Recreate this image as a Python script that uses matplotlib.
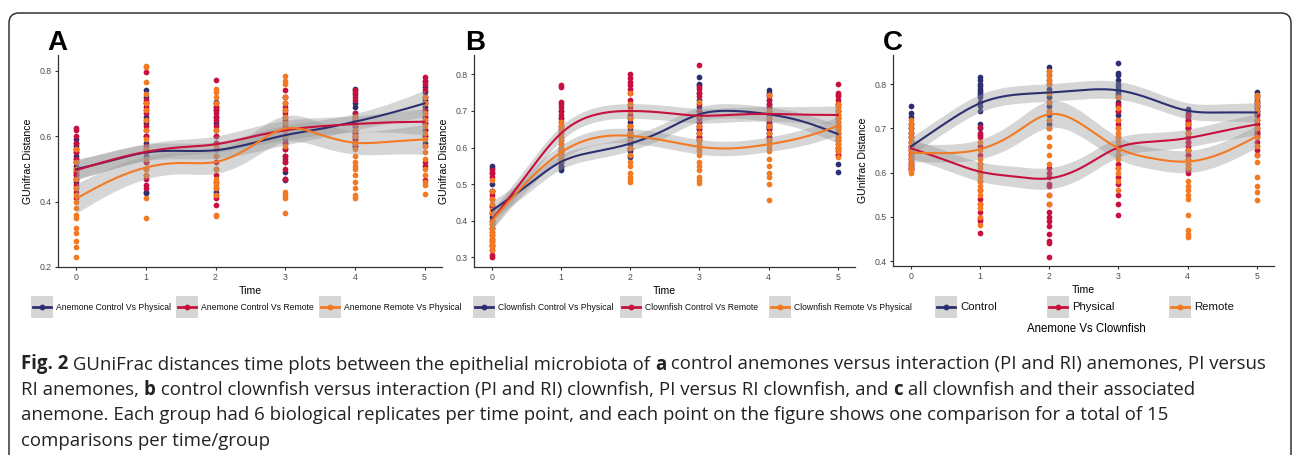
import numpy as np
import matplotlib
matplotlib.use("Agg")
import matplotlib.pyplot as plt
from matplotlib.patches import FancyBboxPatch, Rectangle
from matplotlib.lines import Line2D

plt.rcParams['font.family'] = ['Liberation Sans', 'DejaVu Sans']

W, H = 1292, 455

times = [0, 1, 2, 3, 4, 5]
fit_x = [0, 0.5, 1, 1.5, 2, 2.5, 3, 3.5, 4, 4.5, 5]
colors = ['#2D3070', '#C8103F', '#F37A22']

# ---- panel A: anemones ----
a_labels = ["Anemone Control Vs Physical", "Anemone Control Vs Remote", "Anemone Remote Vs Physical"]
a_ctrl_phys = [
    [0.59, 0.58, 0.57, 0.56, 0.55, 0.54, 0.53, 0.52, 0.51, 0.50, 0.49, 0.48, 0.47, 0.46, 0.44],
    [0.74, 0.72, 0.70, 0.68, 0.66, 0.64, 0.62, 0.60, 0.58, 0.56, 0.54, 0.52, 0.48, 0.43, 0.425],
    [0.705, 0.70, 0.69, 0.68, 0.66, 0.64, 0.62, 0.60, 0.58, 0.56, 0.54, 0.50, 0.46, 0.43, 0.42],
    [0.72, 0.70, 0.68, 0.66, 0.64, 0.62, 0.60, 0.59, 0.58, 0.56, 0.54, 0.52, 0.49, 0.47, 0.465],
    [0.745, 0.73, 0.70, 0.69, 0.67, 0.66, 0.65, 0.64, 0.63, 0.62, 0.61, 0.60, 0.59, 0.58, 0.57],
    [0.77, 0.75, 0.735, 0.72, 0.71, 0.70, 0.69, 0.68, 0.67, 0.66, 0.65, 0.64, 0.62, 0.60, 0.58],
]
a_ctrl_rem = [
    [0.625, 0.62, 0.60, 0.58, 0.56, 0.55, 0.53, 0.52, 0.50, 0.49, 0.48, 0.47, 0.45, 0.43, 0.41],
    [0.795, 0.71, 0.70, 0.69, 0.67, 0.65, 0.63, 0.60, 0.57, 0.55, 0.52, 0.50, 0.47, 0.45, 0.44],
    [0.773, 0.69, 0.68, 0.67, 0.66, 0.65, 0.63, 0.60, 0.58, 0.56, 0.52, 0.48, 0.44, 0.41, 0.39],
    [0.74, 0.72, 0.69, 0.67, 0.65, 0.63, 0.62, 0.60, 0.58, 0.56, 0.54, 0.53, 0.52, 0.50, 0.47],
    [0.74, 0.735, 0.72, 0.71, 0.67, 0.66, 0.65, 0.64, 0.63, 0.62, 0.61, 0.60, 0.59, 0.58, 0.57],
    [0.782, 0.77, 0.76, 0.74, 0.72, 0.70, 0.68, 0.66, 0.64, 0.62, 0.60, 0.57, 0.52, 0.51, 0.465],
]
a_rem_phys = [
    [0.56, 0.52, 0.50, 0.47, 0.44, 0.42, 0.40, 0.38, 0.36, 0.35, 0.32, 0.305, 0.28, 0.26, 0.23],
    [0.815, 0.81, 0.765, 0.73, 0.70, 0.68, 0.65, 0.62, 0.59, 0.56, 0.53, 0.50, 0.48, 0.41, 0.35],
    [0.745, 0.735, 0.72, 0.70, 0.62, 0.57, 0.54, 0.50, 0.47, 0.46, 0.45, 0.44, 0.42, 0.36, 0.355],
    [0.784, 0.77, 0.76, 0.72, 0.70, 0.68, 0.66, 0.64, 0.62, 0.60, 0.57, 0.43, 0.42, 0.41, 0.366],
    [0.66, 0.64, 0.62, 0.60, 0.58, 0.56, 0.54, 0.52, 0.51, 0.50, 0.48, 0.46, 0.44, 0.42, 0.41],
    [0.72, 0.70, 0.67, 0.65, 0.63, 0.61, 0.59, 0.57, 0.55, 0.53, 0.50, 0.48, 0.46, 0.45, 0.422],
]
a_fit_ctrl_phys = [0.499, 0.525, 0.550, 0.555, 0.557, 0.577, 0.603, 0.622, 0.644, 0.670, 0.700]
a_fit_ctrl_rem = [0.496, 0.527, 0.552, 0.566, 0.575, 0.597, 0.618, 0.630, 0.637, 0.642, 0.644]
a_fit_rem_phys = [0.409, 0.465, 0.504, 0.518, 0.521, 0.567, 0.623, 0.605, 0.580, 0.583, 0.590]
a_se_ctrl_phys = [0.030, 0.025, 0.025, 0.030, 0.025, 0.040]
a_se_ctrl_rem = [0.030, 0.025, 0.025, 0.030, 0.025, 0.040]
a_se_rem_phys = [0.045, 0.035, 0.035, 0.040, 0.035, 0.045]

# ---- panel B: clownfish ----
b_labels = ["Clownfish Control Vs Physical", "Clownfish Control Vs Remote", "Clownfish Remote Vs Physical"]
b_ctrl_phys = [
    [0.55, 0.545, 0.53, 0.50, 0.48, 0.46, 0.44, 0.42, 0.41, 0.40, 0.39, 0.38, 0.36, 0.345, 0.335],
    [0.70, 0.68, 0.66, 0.64, 0.62, 0.60, 0.59, 0.58, 0.57, 0.56, 0.56, 0.55, 0.55, 0.545, 0.54],
    [0.72, 0.70, 0.68, 0.67, 0.66, 0.65, 0.64, 0.63, 0.62, 0.61, 0.60, 0.595, 0.59, 0.58, 0.575],
    [0.792, 0.775, 0.77, 0.75, 0.73, 0.71, 0.70, 0.69, 0.68, 0.67, 0.66, 0.65, 0.64, 0.63, 0.62],
    [0.757, 0.75, 0.73, 0.72, 0.71, 0.70, 0.69, 0.68, 0.67, 0.665, 0.66, 0.655, 0.65, 0.64, 0.63],
    [0.72, 0.70, 0.68, 0.67, 0.66, 0.65, 0.64, 0.63, 0.62, 0.61, 0.60, 0.59, 0.58, 0.555, 0.534],
]
b_ctrl_rem = [
    [0.54, 0.53, 0.52, 0.48, 0.47, 0.44, 0.42, 0.40, 0.38, 0.37, 0.35, 0.33, 0.32, 0.305, 0.30],
    [0.771, 0.765, 0.725, 0.72, 0.71, 0.70, 0.69, 0.68, 0.67, 0.66, 0.65, 0.63, 0.61, 0.59, 0.58],
    [0.80, 0.79, 0.78, 0.77, 0.76, 0.75, 0.73, 0.71, 0.70, 0.69, 0.68, 0.66, 0.64, 0.62, 0.60],
    [0.825, 0.765, 0.76, 0.75, 0.74, 0.72, 0.70, 0.69, 0.68, 0.67, 0.66, 0.65, 0.64, 0.63, 0.62],
    [0.745, 0.74, 0.73, 0.72, 0.71, 0.70, 0.69, 0.68, 0.67, 0.66, 0.65, 0.64, 0.63, 0.62, 0.61],
    [0.775, 0.75, 0.745, 0.74, 0.73, 0.72, 0.71, 0.70, 0.69, 0.68, 0.66, 0.64, 0.62, 0.60, 0.58],
]
b_rem_phys = [
    [0.51, 0.48, 0.46, 0.445, 0.43, 0.42, 0.40, 0.39, 0.38, 0.37, 0.36, 0.35, 0.34, 0.33, 0.32],
    [0.67, 0.66, 0.65, 0.64, 0.63, 0.62, 0.61, 0.60, 0.595, 0.59, 0.585, 0.58, 0.575, 0.57, 0.565],
    [0.75, 0.72, 0.70, 0.68, 0.66, 0.64, 0.62, 0.60, 0.58, 0.56, 0.55, 0.53, 0.52, 0.51, 0.505],
    [0.725, 0.69, 0.66, 0.64, 0.62, 0.61, 0.60, 0.59, 0.58, 0.56, 0.55, 0.54, 0.52, 0.51, 0.502],
    [0.745, 0.70, 0.68, 0.66, 0.64, 0.62, 0.61, 0.60, 0.59, 0.57, 0.55, 0.53, 0.52, 0.50, 0.457],
    [0.72, 0.71, 0.70, 0.69, 0.68, 0.67, 0.66, 0.65, 0.64, 0.63, 0.62, 0.61, 0.60, 0.59, 0.575],
]
b_fit_ctrl_phys = [0.428, 0.495, 0.561, 0.589, 0.611, 0.648, 0.691, 0.700, 0.691, 0.671, 0.637]
b_fit_ctrl_rem = [0.402, 0.525, 0.639, 0.690, 0.700, 0.695, 0.687, 0.690, 0.692, 0.690, 0.689]
b_fit_rem_phys = [0.400, 0.505, 0.587, 0.627, 0.632, 0.619, 0.602, 0.598, 0.609, 0.628, 0.659]
b_se_ctrl_phys = [0.025, 0.020, 0.020, 0.020, 0.020, 0.025]
b_se_ctrl_rem = [0.025, 0.020, 0.020, 0.020, 0.020, 0.025]
b_se_rem_phys = [0.025, 0.020, 0.020, 0.020, 0.020, 0.025]

# ---- panel C: anemone vs clownfish ----
c_labels = ["Control", "Physical", "Remote"]
c_ctrl = [
    [0.751, 0.735, 0.725, 0.71, 0.70, 0.69, 0.68, 0.67, 0.66, 0.65, 0.64, 0.63, 0.62, 0.615, 0.61],
    [0.816, 0.81, 0.80, 0.795, 0.79, 0.785, 0.78, 0.775, 0.77, 0.76, 0.75, 0.74, 0.71, 0.70, 0.685],
    [0.838, 0.83, 0.82, 0.81, 0.80, 0.79, 0.78, 0.77, 0.76, 0.75, 0.74, 0.73, 0.72, 0.71, 0.70],
    [0.848, 0.825, 0.82, 0.81, 0.80, 0.795, 0.79, 0.785, 0.78, 0.775, 0.77, 0.76, 0.75, 0.74, 0.73],
    [0.743, 0.735, 0.73, 0.725, 0.72, 0.715, 0.71, 0.705, 0.70, 0.69, 0.68, 0.67, 0.66, 0.65, 0.64],
    [0.783, 0.775, 0.77, 0.765, 0.76, 0.755, 0.75, 0.745, 0.74, 0.735, 0.73, 0.72, 0.71, 0.70, 0.69],
]
c_phys = [
    [0.71, 0.70, 0.69, 0.68, 0.67, 0.66, 0.655, 0.65, 0.645, 0.64, 0.63, 0.625, 0.62, 0.61, 0.605],
    [0.704, 0.69, 0.68, 0.66, 0.64, 0.62, 0.60, 0.58, 0.56, 0.54, 0.53, 0.51, 0.495, 0.49, 0.463],
    [0.61, 0.60, 0.59, 0.575, 0.57, 0.55, 0.53, 0.51, 0.50, 0.49, 0.48, 0.46, 0.445, 0.44, 0.41],
    [0.755, 0.74, 0.72, 0.71, 0.70, 0.68, 0.66, 0.64, 0.62, 0.61, 0.59, 0.575, 0.55, 0.53, 0.503],
    [0.73, 0.72, 0.71, 0.70, 0.69, 0.68, 0.67, 0.66, 0.65, 0.64, 0.63, 0.62, 0.61, 0.605, 0.598],
    [0.76, 0.75, 0.74, 0.73, 0.72, 0.71, 0.70, 0.695, 0.69, 0.685, 0.68, 0.67, 0.66, 0.65, 0.64],
]
c_rem = [
    [0.72, 0.71, 0.70, 0.69, 0.68, 0.67, 0.66, 0.65, 0.64, 0.635, 0.63, 0.62, 0.61, 0.605, 0.598],
    [0.67, 0.65, 0.63, 0.62, 0.61, 0.60, 0.59, 0.58, 0.57, 0.56, 0.55, 0.53, 0.52, 0.50, 0.482],
    [0.83, 0.82, 0.81, 0.80, 0.78, 0.76, 0.74, 0.72, 0.70, 0.68, 0.66, 0.64, 0.62, 0.55, 0.53],
    [0.77, 0.745, 0.72, 0.70, 0.69, 0.68, 0.67, 0.66, 0.65, 0.64, 0.63, 0.61, 0.60, 0.58, 0.56],
    [0.71, 0.69, 0.65, 0.63, 0.62, 0.61, 0.58, 0.57, 0.56, 0.55, 0.54, 0.504, 0.47, 0.46, 0.455],
    [0.775, 0.77, 0.76, 0.75, 0.74, 0.72, 0.70, 0.68, 0.66, 0.64, 0.625, 0.59, 0.57, 0.555, 0.538],
]
c_fit_ctrl = [0.659, 0.712, 0.757, 0.776, 0.781, 0.787, 0.786, 0.765, 0.740, 0.736, 0.736]
c_fit_phys = [0.655, 0.628, 0.602, 0.591, 0.587, 0.614, 0.657, 0.670, 0.678, 0.694, 0.709]
c_fit_rem = [0.645, 0.644, 0.653, 0.689, 0.732, 0.706, 0.655, 0.632, 0.625, 0.644, 0.682]
c_se_ctrl = [0.020, 0.020, 0.020, 0.020, 0.018, 0.022]
c_se_phys = [0.022, 0.022, 0.024, 0.022, 0.020, 0.024]
c_se_rem = [0.020, 0.022, 0.030, 0.025, 0.025, 0.025]


def spline(xk, yk, xs):
    # natural cubic spline, only used to draw the smooth curve
    xk = np.asarray(xk, float)
    yk = np.asarray(yk, float)
    n = len(xk)
    h = np.diff(xk)
    A = np.zeros((n, n))
    b = np.zeros(n)
    A[0, 0] = A[-1, -1] = 1
    for i in range(1, n - 1):
        A[i, i - 1] = h[i - 1]
        A[i, i] = 2 * (h[i - 1] + h[i])
        A[i, i + 1] = h[i]
        b[i] = 3 * ((yk[i + 1] - yk[i]) / h[i] - (yk[i] - yk[i - 1]) / h[i - 1])
    c = np.linalg.solve(A, b)
    idx = np.clip(np.searchsorted(xk, xs) - 1, 0, n - 2)
    dx = xs - xk[idx]
    bb = (yk[idx + 1] - yk[idx]) / h[idx] - h[idx] * (2 * c[idx] + c[idx + 1]) / 3
    d = (c[idx + 1] - c[idx]) / (3 * h[idx])
    return yk[idx] + bb * dx + c[idx] * dx ** 2 + d * dx ** 3


def panel(ax, groups, fits, ses, ylim, yticks):
    for vals, col in zip(groups, colors):
        for t, v in zip(times, vals):
            ax.scatter(np.full(len(v), t), v, s=17, color=col, linewidths=0, zorder=2)
    xs = np.linspace(0, 5, 200)
    for fit, se, col in zip(fits, ses, colors):
        ys = spline(fit_x, fit, xs)
        hw = spline(times, se, xs)
        ax.fill_between(xs, ys - hw, ys + hw, color='#999999', alpha=0.4, linewidth=0, zorder=3)
        ax.plot(xs, ys, color=col, lw=1.5, zorder=4)
    ax.set_xlim(-0.26, 5.25)
    ax.set_ylim(*ylim)
    ax.set_xticks(times)
    ax.set_yticks(yticks)
    ax.set_yticklabels([f"{v:.1f}" for v in yticks])
    for s in ['top', 'right']:
        ax.spines[s].set_visible(False)
    for s in ['left', 'bottom']:
        ax.spines[s].set_linewidth(0.9)
        ax.spines[s].set_color('#333333')
    ax.tick_params(length=2.5, width=0.8, color='#333333', labelsize=6.3,
                   labelcolor='#4d4d4d', pad=2)
    ax.set_xlabel("Time", fontsize=7.6)
    ax.set_ylabel("GUnifrac Distance", fontsize=7.6)
    ax.xaxis.set_label_coords(0.5, -0.09)
    ax.yaxis.set_label_coords(-0.065, 0.5)


fig = plt.figure(figsize=(W / 100, H / 100), dpi=100)

axA = fig.add_axes([58 / W, 1 - 267 / H, 384 / W, 212 / H])
axB = fig.add_axes([474 / W, 1 - 267 / H, 381 / W, 212 / H])
axC = fig.add_axes([893 / W, 1 - 266 / H, 381 / W, 211 / H])

panel(axA, [a_ctrl_phys, a_ctrl_rem, a_rem_phys],
      [a_fit_ctrl_phys, a_fit_ctrl_rem, a_fit_rem_phys],
      [a_se_ctrl_phys, a_se_ctrl_rem, a_se_rem_phys],
      (0.2, 0.848), [0.2, 0.4, 0.6, 0.8])
panel(axB, [b_ctrl_phys, b_ctrl_rem, b_rem_phys],
      [b_fit_ctrl_phys, b_fit_ctrl_rem, b_fit_rem_phys],
      [b_se_ctrl_phys, b_se_ctrl_rem, b_se_rem_phys],
      (0.2735, 0.853), [0.3, 0.4, 0.5, 0.6, 0.7, 0.8])
panel(axC, [c_ctrl, c_phys, c_rem],
      [c_fit_ctrl, c_fit_phys, c_fit_rem],
      [c_se_ctrl, c_se_phys, c_se_rem],
      (0.3887, 0.866), [0.4, 0.5, 0.6, 0.7, 0.8])

# panel letters
for x, lab in [(47, "A"), (465, "B"), (883, "C")]:
    fig.text(x / W, 1 - 50 / H, lab, fontsize=20, fontweight='bold', va='baseline')


# legends, drawn as keys below each panel
def key(x0, col, label, size):
    y0 = 296
    fig.add_artist(Rectangle((x0 / W, 1 - (y0 + 22) / H), 22 / W, 22 / H,
                             transform=fig.transFigure, facecolor='#d6d6d6', edgecolor='none'))
    fig.add_artist(Line2D([(x0 + 2) / W, (x0 + 20) / W], [1 - (y0 + 11) / H] * 2,
                          transform=fig.transFigure, color=col, lw=2))
    fig.add_artist(Line2D([(x0 + 11) / W], [1 - (y0 + 11) / H], transform=fig.transFigure,
                          color=col, marker='o', markersize=4.2, markeredgewidth=0))
    fig.text((x0 + 25) / W, 1 - (y0 + 11) / H, label, fontsize=size, va='center', color='#111111')


for x0, col, lab in zip([31, 176, 319], colors, a_labels):
    key(x0, col, lab, 6.2)
for x0, col, lab in zip([473, 620, 769], colors, b_labels):
    key(x0, col, lab, 6.2)
for x0, col, lab in zip([935, 1047, 1169], colors, c_labels):
    key(x0, col, lab, 8.2)
fig.text(1086 / W, 1 - 329 / H, "Anemone Vs Clownfish", fontsize=8.3, ha='center', va='center')

# frame around the figure
fig.add_artist(FancyBboxPatch((0.09, -0.3), 12.82, 4.72, boxstyle="round,pad=0,rounding_size=0.1",
                              transform=fig.dpi_scale_trans, facecolor='none',
                              edgecolor='#333333', linewidth=1.1))

# caption
cap_font = ['Open Sans', 'DejaVu Sans']
caption = [
    [("Fig. 2", 'bold'), (" GUniFrac distances time plots between the epithelial microbiota of ", 'normal'),
     ("a", 'bold'), (" control anemones versus interaction (PI and RI) anemones, PI versus", 'normal')],
    [("RI anemones, ", 'normal'), ("b", 'bold'),
     (" control clownfish versus interaction (PI and RI) clownfish, PI versus RI clownfish, and ", 'normal'),
     ("c", 'bold'), (" all clownfish and their associated", 'normal')],
    [("anemone. Each group had 6 biological replicates per time point, and each point on the figure "
      "shows one comparison for a total of 15", 'normal')],
    [("comparisons per time/group", 'normal')],
]
baselines = [369.5, 395, 420.5, 446]

renderer = fig.canvas.get_renderer()


def line_width(parts, size):
    total = 0
    for s, wgt in parts:
        t = fig.text(0, 0, s, fontsize=size, fontweight=wgt, family=cap_font)
        total += t.get_window_extent(renderer).width
        t.remove()
    return total


cap_size = 11 * 1245 / line_width(caption[0], 11)
for parts, yb in zip(caption, baselines):
    x = 21
    for s, wgt in parts:
        t = fig.text(x / W, 1 - yb / H, s, fontsize=cap_size, fontweight=wgt,
                     family=cap_font, va='baseline', color='#222222')
        x += t.get_window_extent(renderer).width

fig.savefig("out.png", dpi=100)
